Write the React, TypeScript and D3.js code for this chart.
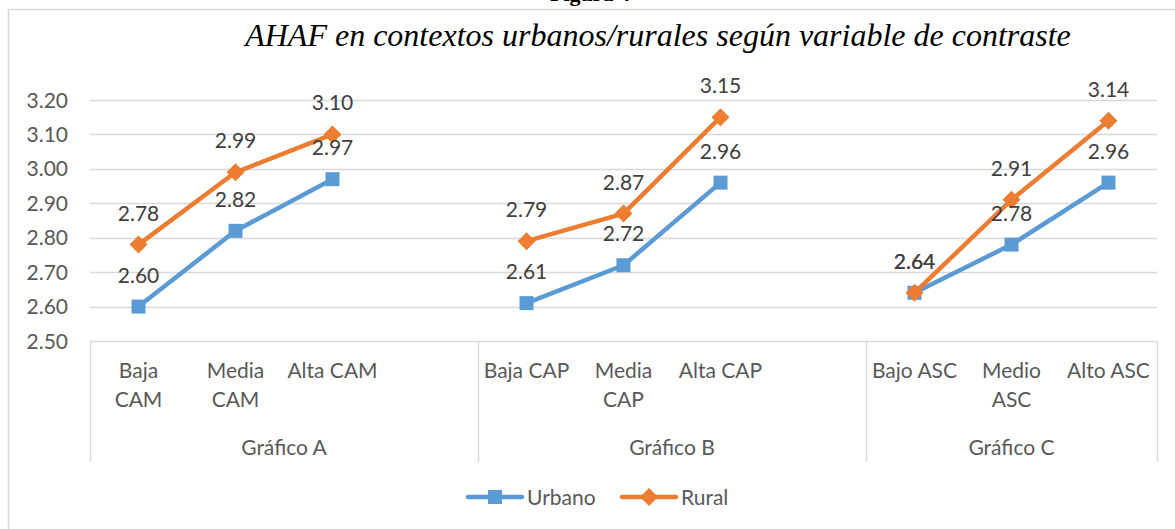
import * as d3 from 'd3';
import {useEffect, useRef} from "react";
import * as React from "react";

// categories (blank slots separate the three groups, like the Excel source)
const categories = ["Baja CAM", "Media CAM", "Alta CAM", "", "Baja CAP", "Media CAP", "Alta CAP", "", "Bajo ASC", "Medio ASC", "Alto ASC"];
const categoryLines = [["Baja", "CAM"], ["Media", "CAM"], ["Alta CAM"], [], ["Baja CAP"], ["Media", "CAP"], ["Alta CAP"], [], ["Bajo ASC"], ["Medio", "ASC"], ["Alto ASC"]];
const groups = ["Gráfico A", "Gráfico B", "Gráfico C"];
const groupSpans = [[0, 3], [4, 7], [8, 10]];

const urbano = [2.60, 2.82, 2.97, null, 2.61, 2.72, 2.96, null, 2.64, 2.78, 2.96];
const rural = [2.78, 2.99, 3.10, null, 2.79, 2.87, 3.15, null, 2.64, 2.91, 3.14];

const yTicks = [2.5, 2.6, 2.7, 2.8, 2.9, 3.0, 3.1, 3.2];

const BLUE = "#5B9BD5";
const ORANGE = "#ED7D31";
const GRID = "#D9D9D9";
const TEXT = "#595959";
const FONT = "Lato, 'Open Sans', sans-serif";
const FS = 21;

export default function App() {
    const svgRef = useRef<SVGSVGElement | null>(null);

    useEffect(() => {
        if (!svgRef.current) return;
        const width = 1175;
        const height = 529;
        const plot = { left: 90, right: 1157, top: 100, bottom: 341 };

        const svg = d3.select(svgRef.current)
            .attr("width", width)
            .attr("height", height);
        svg.selectAll("*").remove();

        // outer frame (runs off the page right and bottom)
        svg.append("rect")
            .attr("x", 8.5).attr("y", 9.5)
            .attr("width", 1200).attr("height", 600)
            .attr("fill", "white")
            .attr("stroke", GRID)
            .attr("stroke-width", 1.5);

        // caption, cut off at the top as in the source
        svg.append("text")
            .attr("x", 590).attr("y", 1)
            .attr("text-anchor", "middle")
            .attr("font-family", "'Liberation Serif', serif")
            .attr("font-weight", "bold")
            .attr("font-size", 22)
            .attr("fill", "black")
            .text("Figura 4");

        svg.append("text")
            .attr("x", 658).attr("y", 46)
            .attr("text-anchor", "middle")
            .attr("font-family", "'Liberation Serif', serif")
            .attr("font-style", "italic")
            .attr("font-size", 32)
            .attr("fill", "black")
            .text("AHAF en contextos urbanos/rurales según variable de contraste");

        const x = d3.scaleBand<string>()
            .domain(categories.map((_, i) => String(i)))
            .range([plot.left, plot.right])
            .padding(0);
        const cx = (i: number) => (x(String(i)) as number) + x.bandwidth() / 2;

        const y = d3.scaleLinear()
            .domain([2.5, 3.2])
            .range([plot.bottom, plot.top]);

        // grid
        svg.append("g")
            .selectAll("line")
            .data(yTicks.slice(1))
            .enter().append("line")
            .attr("x1", plot.left).attr("x2", plot.right)
            .attr("y1", d => Math.round(y(d)) + 0.5).attr("y2", d => Math.round(y(d)) + 0.5)
            .attr("stroke", GRID)
            .attr("stroke-width", 1.5);

        // y labels
        svg.append("g")
            .selectAll("text")
            .data(yTicks)
            .enter().append("text")
            .attr("x", 68)
            .attr("y", d => y(d) + 7.5)
            .attr("text-anchor", "end")
            .attr("font-family", FONT)
            .attr("font-size", FS)
            .attr("fill", TEXT)
            .text(d => d.toFixed(2));

        // category axis box
        const axisBottom = 462;
        const axis = svg.append("g");
        axis.append("line")
            .attr("x1", plot.left).attr("x2", plot.right)
            .attr("y1", plot.bottom + 0.5).attr("y2", plot.bottom + 0.5)
            .attr("stroke", GRID).attr("stroke-width", 1.5);
        const dividers = [plot.left, ...groupSpans.map(s => (x(String(s[1])) as number) + x.bandwidth())];
        axis.selectAll("line.div")
            .data(dividers)
            .enter().append("line")
            .attr("class", "div")
            .attr("x1", d => Math.round(d) + 0.5).attr("x2", d => Math.round(d) + 0.5)
            .attr("y1", plot.bottom).attr("y2", axisBottom)
            .attr("stroke", GRID).attr("stroke-width", 1.5);

        categoryLines.forEach((lines, i) => {
            lines.forEach((ln, j) => {
                axis.append("text")
                    .attr("x", cx(i))
                    .attr("y", 378 + j * 29)
                    .attr("text-anchor", "middle")
                    .attr("font-family", FONT)
                    .attr("font-size", FS)
                    .attr("fill", TEXT)
                    .text(ln);
            });
        });

        groups.forEach((g, i) => {
            const [a, b] = groupSpans[i];
            const left = x(String(a)) as number;
            const right = i < 2 ? (x(String(b)) as number) + x.bandwidth() : plot.right;
            axis.append("text")
                .attr("x", (left + right) / 2)
                .attr("y", 455)
                .attr("text-anchor", "middle")
                .attr("font-family", FONT)
                .attr("font-size", FS)
                .attr("fill", TEXT)
                .text(g);
        });

        const line = d3.line<number | null>()
            .defined(d => d !== null)
            .x((_, i) => cx(i))
            .y(d => y(d as number));

        const drawSeries = (vals: (number | null)[], color: string, marker: "square" | "diamond") => {
            const g = svg.append("g");
            g.append("path")
                .datum(vals)
                .attr("fill", "none")
                .attr("stroke", color)
                .attr("stroke-width", 4.5)
                .attr("stroke-linejoin", "round")
                .attr("d", line);
            const pts = vals.map((v, i) => ({ v, i })).filter(d => d.v !== null);
            if (marker === "square") {
                g.selectAll("rect")
                    .data(pts)
                    .enter().append("rect")
                    .attr("x", d => cx(d.i) - 7)
                    .attr("y", d => y(d.v as number) - 7)
                    .attr("width", 14).attr("height", 14)
                    .attr("fill", color);
            } else {
                g.selectAll("path.m")
                    .data(pts)
                    .enter().append("path")
                    .attr("class", "m")
                    .attr("transform", d => `translate(${cx(d.i)},${y(d.v as number)})`)
                    .attr("d", "M0,-9L9,0L0,9L-9,0Z")
                    .attr("fill", color);
            }
            return pts;
        };

        const pu = drawSeries(urbano, BLUE, "square");
        const pr = drawSeries(rural, ORANGE, "diamond");

        // data labels
        const labels = svg.append("g");
        [...pu, ...pr].forEach(d => {
            labels.append("text")
                .attr("x", cx(d.i))
                .attr("y", y(d.v as number) - 24)
                .attr("text-anchor", "middle")
                .attr("font-family", FONT)
                .attr("font-size", FS)
                .attr("fill", "#404040")
                .text((d.v as number).toFixed(2));
        });

        // legend
        const legend = svg.append("g");
        const items = [
            { name: "Urbano", color: BLUE, marker: "square", x0: 468 },
            { name: "Rural", color: ORANGE, marker: "diamond", x0: 622 },
        ];
        items.forEach(it => {
            const ly = 497;
            legend.append("line")
                .attr("x1", it.x0).attr("x2", it.x0 + 54)
                .attr("y1", ly).attr("y2", ly)
                .attr("stroke", it.color)
                .attr("stroke-width", 4.5)
                .attr("stroke-linecap", "round");
            if (it.marker === "square") {
                legend.append("rect")
                    .attr("x", it.x0 + 27 - 7).attr("y", ly - 7)
                    .attr("width", 14).attr("height", 14)
                    .attr("fill", it.color);
            } else {
                legend.append("path")
                    .attr("transform", `translate(${it.x0 + 27},${ly})`)
                    .attr("d", "M0,-9L9,0L0,9L-9,0Z")
                    .attr("fill", it.color);
            }
            legend.append("text")
                .attr("x", it.x0 + 59)
                .attr("y", ly + 7.5)
                .attr("font-family", FONT)
                .attr("font-size", FS)
                .attr("fill", TEXT)
                .text(it.name);
        });
    }, []);

    return (
        <div style={{ position: "fixed", left: 0, top: 0, background: "white" }}>
            <svg ref={svgRef} style={{ display: "block" }}></svg>
        </div>
    );
}
